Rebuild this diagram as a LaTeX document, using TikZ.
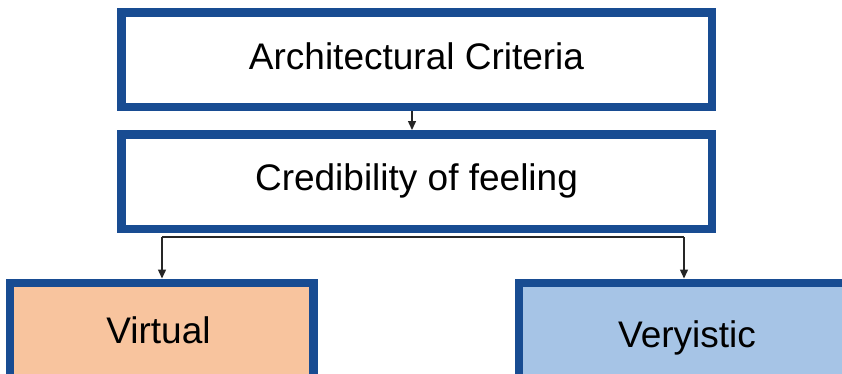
\documentclass[tikz,border=0pt]{standalone}
\usepackage{fontspec}
\setmainfont{Liberation Sans}
\usetikzlibrary{arrows.meta}
\definecolor{borderblue}{RGB}{24,76,146}
\definecolor{peach}{RGB}{248,196,158}
\definecolor{skyblue}{RGB}{166,196,230}
\tikzset{
  box/.style={draw=borderblue, line width=8.5pt, inner sep=0pt, anchor=center,
    text height=27pt, text depth=0pt,
    font=\fontsize{37}{44}\selectfont, text=black},
  conn/.style={draw=black!85, line width=1.4pt, -{Triangle[length=9pt,width=8pt]}},
  plain/.style={draw=black!85, line width=1.4pt}
}
\begin{document}
\begin{tikzpicture}[x=1pt,y=-1pt]
\useasboundingbox (0,0) rectangle (842,373);
\clip (0,0) rectangle (842,373);
\fill[white] (0,0) rectangle (842,373);
\node[box, fill=white, minimum width=590.5pt, minimum height=94.5pt] (crit) at (416.5,59.5) {\raisebox{4pt}{Architectural Criteria}};
\node[box, fill=white, minimum width=590.5pt, minimum height=94.5pt] (cred) at (416.5,181.5) {\raisebox{5pt}{Credibility of feeling}};
\node[box, fill=peach, minimum width=303.5pt, minimum height=95.5pt] (virt) at (161.5,330.5) {\raisebox{1pt}{Virtual}\hspace*{6pt}};
\node[box, fill=skyblue, minimum width=336.5pt, minimum height=95.5pt] (very) at (687,330.5) {\raisebox{-3.5pt}{Veryistic}};
\coordinate (split) at (412,237);
\draw[conn] (crit.south -| split) -- (cred.north -| split);
\draw[plain] (split) -- (split -| 162,0);
\draw[plain] (split) -- (split -| 684,0);
\draw[conn] (split -| 162,0) -- (virt.north -| 162,0);
\draw[conn] (split -| 684,0) -- (very.north -| 684,0);
\end{tikzpicture}
\end{document}
